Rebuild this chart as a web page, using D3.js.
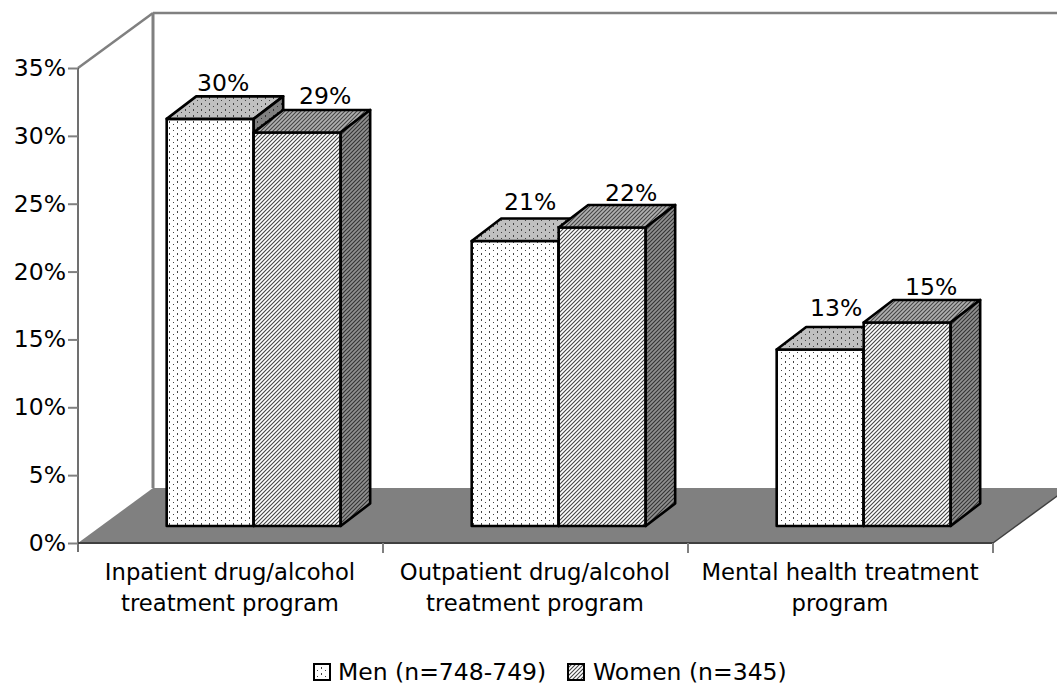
<!DOCTYPE html>
<html><head><meta charset="utf-8"><script src="https://cdn.jsdelivr.net/npm/d3@7"></script>
<style>html,body{margin:0;background:#fff}svg{display:block}text{font-family:"DejaVu Sans",sans-serif;fill:#000}</style></head>
<body><svg width="1057" height="686"></svg>
<script>
const categories = [["Inpatient drug/alcohol","treatment program"],["Outpatient drug/alcohol","treatment program"],["Mental health treatment","program"]];
const seriesNames = ["Men (n=748-749)","Women (n=345)"];
const menValues = [30,21,13];
const womenValues = [29,22,15];
const yTicks = [0,5,10,15,20,25,30,35];

const svg = d3.select("svg");
const W=1057,H=686,FS="23.5px",FC="22.7px";
const y = d3.scaleLinear().domain([0,35]).range([543,68]);
const x0 = d3.scaleBand().domain(d3.range(3)).range([78,993]);
const x1 = d3.scaleBand().domain([0,1]).range([0,x0.bandwidth()]).paddingInner(0).paddingOuter(0.753);
const wallDx=75, wallDy=-55;
const frontDy=-17, frontDx=frontDy*wallDx/wallDy;
const depthDx=29.5, depthDy=-22.5;
const base=y(0)+frontDy;

const defs=svg.append("defs");
function dots(id,bg,fg){
  const p=defs.append("pattern").attr("id",id).attr("width",8).attr("height",6).attr("patternUnits","userSpaceOnUse");
  p.append("rect").attr("width",8).attr("height",6).attr("fill",bg);
  p.append("rect").attr("x",1).attr("y",1).attr("width",1).attr("height",2).attr("fill",fg);
  p.append("rect").attr("x",5).attr("y",4).attr("width",1).attr("height",1).attr("fill",fg);
}
function hatch(id,bg,fg,w){
  const p=defs.append("pattern").attr("id",id).attr("width",4).attr("height",4).attr("patternUnits","userSpaceOnUse");
  p.append("rect").attr("width",4).attr("height",4).attr("fill",bg);
  p.append("path").attr("d","M-1,1L1,-1M0,4L4,0M3,5L5,3").attr("stroke",fg).attr("stroke-width",w);
}
dots("m0","#fff","#444");dots("m1","#c0c0c0","#444");dots("m2","#808080","#333");
hatch("w0","#fff","#444",1.1);hatch("w1","#b0b0b0","#444",1.1);hatch("w2","#909090","#333",1.1);

const gray="#808080";
const line=(a,b,c,d,col,w)=>svg.append("line").attr("x1",a).attr("y1",b).attr("x2",c).attr("y2",d).attr("stroke",col).attr("stroke-width",w);
// floor
const L=x0.range()[0],R=x0.range()[1];
svg.append("path").attr("d",d3.line()([[L,y(0)],[R,y(0)],[R+wallDx,y(0)+wallDy],[L+wallDx,y(0)+wallDy]])+"Z").attr("fill",gray);
// walls
line(L,y(35),L+wallDx,y(35)+wallDy,gray,2.5);
line(L+wallDx,y(35)+wallDy,L+wallDx,y(0)+wallDy,gray,3);
line(L+wallDx,y(35)+wallDy,W,y(35)+wallDy,gray,2.5);
// axes
const ax=svg.append("g").attr("transform",`translate(${L},0)`).call(d3.axisLeft(y).tickValues(yTicks).tickSize(10).tickPadding(2).tickFormat(d=>d+"%"));
ax.selectAll("path").attr("stroke","#404040").attr("stroke-width",1.5).attr("d",`M0,${y(35)}V${y(0)+9}`);
ax.selectAll("line").attr("stroke",gray).attr("stroke-width",2);
ax.selectAll("text").style("font-size",FS).style("font-family",'"DejaVu Sans"');
const bx=svg.append("g").attr("transform",`translate(0,${y(0)})`);
bx.append("line").attr("x1",L).attr("x2",R).attr("stroke","#404040").attr("stroke-width",2);
[0,1,2].forEach(i=>{const xx=x0(i)+x0.bandwidth();bx.append("line").attr("x1",xx).attr("x2",xx).attr("y1",0).attr("y2",10).attr("stroke",gray).attr("stroke-width",2);});
line(R,y(0),R+wallDx,y(0)+wallDy,"#404040",1.5);

// bars
const rows=[];
[menValues,womenValues].forEach((vals,s)=>vals.forEach((v,c)=>rows.push({s,c,v})));
rows.sort((a,b)=>a.c-b.c||a.s-b.s);
const poly=pts=>d3.line()(pts)+"Z";
const g=svg.append("g");
rows.forEach(d=>{
  const a=x0(d.c)+x1(d.s)+frontDx, b=a+x1.bandwidth(), t=y(d.v)+frontDy, pre=d.s?"w":"m";
  const st={stroke:"#000","stroke-width":2.6,"stroke-linejoin":"round"};
  const add=(pts,f)=>{const p=g.append("path").attr("d",poly(pts)).attr("fill",`url(#${pre}${f})`);for(const k in st)p.attr(k,st[k]);};
  add([[a,t],[b,t],[b,base],[a,base]],0);
  add([[a,t],[a+depthDx,t+depthDy],[b+depthDx,t+depthDy],[b,t]],1);
  add([[b,t],[b+depthDx,t+depthDy],[b+depthDx,base+depthDy],[b,base]],2);
});
// value labels: hand placement around each bar top, [men, women] per category
const labelShiftX=[[14,29],[16,30],[17,25]], labelShiftY=[[-28,-28],[-31,-26],[-34,-27]];
rows.forEach(d=>{
  const a=x0(d.c)+x1(d.s)+frontDx, t=y(d.v)+frontDy;
  svg.append("text").attr("x",a+x1.bandwidth()/2+labelShiftX[d.c][d.s]-1).attr("y",t+labelShiftY[d.c][d.s]).attr("text-anchor","middle").style("font-size",FS).text(d.v+"%");
});
// category labels
categories.forEach((c,i)=>{
  const cx=x0(i)+x0.bandwidth()/2-0.5;
  const t=svg.append("text").attr("text-anchor","middle").attr("x",cx).style("font-size",FC);
  c.forEach((s,k)=>t.append("tspan").attr("x",cx).attr("y",580+k*31).text(s));
});
// legend
const legX=[314,568], tX=[338,593];
seriesNames.forEach((n,i)=>{
  svg.append("rect").attr("x",legX[i]).attr("y",664).attr("width",16).attr("height",16).attr("fill",`url(#${i?"w":"m"}0)`).attr("stroke","#000").attr("stroke-width",2);
  svg.append("text").attr("x",tX[i]).attr("y",680).style("font-size",FS).text(n);
});
</script></body></html>
